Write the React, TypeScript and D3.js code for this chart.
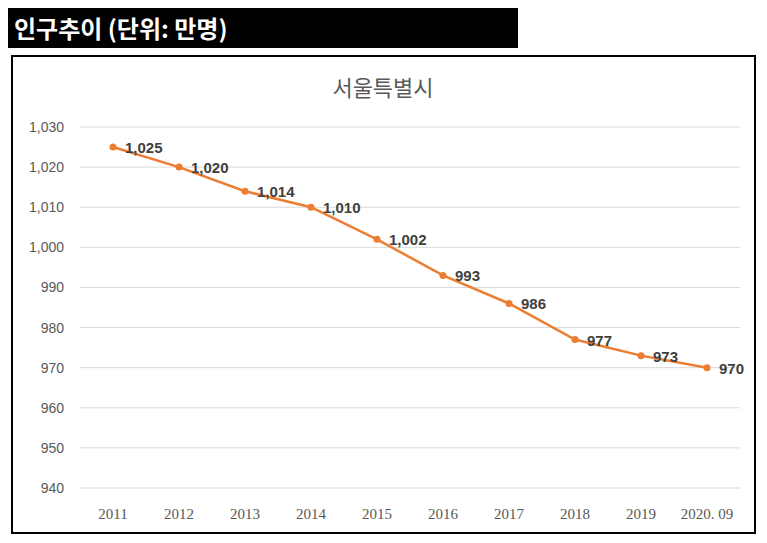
import { useEffect, useRef } from "react";
import * as d3 from "d3";

const years = ["2011", "2012", "2013", "2014", "2015", "2016", "2017", "2018", "2019", "2020. 09"];
const population = [1025, 1020, 1014, 1010, 1002, 993, 986, 977, 973, 970];
const yTicks = [940, 950, 960, 970, 980, 990, 1000, 1010, 1020, 1030];

const W = 767, H = 543;
const FONT = "'Noto Sans CJK KR', 'Noto Sans', sans-serif";

export default function App() {
  const ref = useRef<SVGSVGElement>(null);

  useEffect(() => {
    const svg = d3.select(ref.current!);
    svg.selectAll("*").remove();

    // header
    svg.append("rect").attr("x", 8).attr("y", 8).attr("width", 510).attr("height", 40).attr("fill", "#000");
    svg.append("text").attr("x", 14).attr("y", 38).attr("fill", "#fff").attr("font-size", 24)
      .attr("font-weight", "bold").attr("font-family", FONT).text("인구추이 (단위: 만명)");

    // chart frame
    svg.append("rect").attr("x", 12).attr("y", 56).attr("width", 743).attr("height", 477)
      .attr("fill", "#fff").attr("stroke", "#000").attr("stroke-width", 2);
    svg.append("text").attr("x", 383).attr("y", 96).attr("text-anchor", "middle").attr("fill", "#595959")
      .attr("font-size", 22).attr("font-family", FONT).text("서울특별시");

    const x = d3.scalePoint<string>().domain(years).range([113, 707]);
    const y = d3.scaleLinear().domain([940, 1030]).range([488, 127]);

    svg.append("g").selectAll("line").data(yTicks).join("line")
      .attr("x1", 80).attr("x2", 740).attr("y1", (d) => y(d)).attr("y2", (d) => y(d))
      .attr("stroke", "#d9d9d9").attr("stroke-width", 1);

    svg.append("g").selectAll("text").data(yTicks).join("text")
      .attr("x", 64).attr("y", (d) => y(d) + 5).attr("text-anchor", "end")
      .attr("fill", "#595959").attr("font-size", 14).attr("font-family", "'Liberation Sans', Arial, sans-serif")
      .text((d) => d3.format(",")(d));

    svg.append("g").selectAll("text").data(years).join("text")
      .attr("x", (d) => x(d)!).attr("y", 519).attr("text-anchor", "middle")
      .attr("fill", "#595959").attr("font-size", 15).attr("font-family", "'Liberation Serif', serif")
      .text((d) => d);

    const pts = years.map((yr, i) => ({ yr, v: population[i] }));
    svg.append("path").datum(pts)
      .attr("d", d3.line<{ yr: string; v: number }>().x((d) => x(d.yr)!).y((d) => y(d.v)))
      .attr("fill", "none").attr("stroke", "#ed7d31").attr("stroke-width", 2.5);
    svg.append("g").selectAll("circle").data(pts).join("circle")
      .attr("cx", (d) => x(d.yr)!).attr("cy", (d) => y(d.v)).attr("r", 3.5).attr("fill", "#ed7d31");
    svg.append("g").selectAll("text").data(pts).join("text")
      .attr("x", (d) => x(d.yr)! + 12).attr("y", (d) => y(d.v) + 6)
      .attr("fill", "#404040").attr("font-size", 15).attr("font-weight", "bold")
      .attr("font-family", "'Liberation Sans', Arial, sans-serif")
      .text((d) => d3.format(",")(d.v));
  }, []);

  return <svg ref={ref} width={W} height={H} style={{ position: "absolute", left: 0, top: 0 }} />;
}
